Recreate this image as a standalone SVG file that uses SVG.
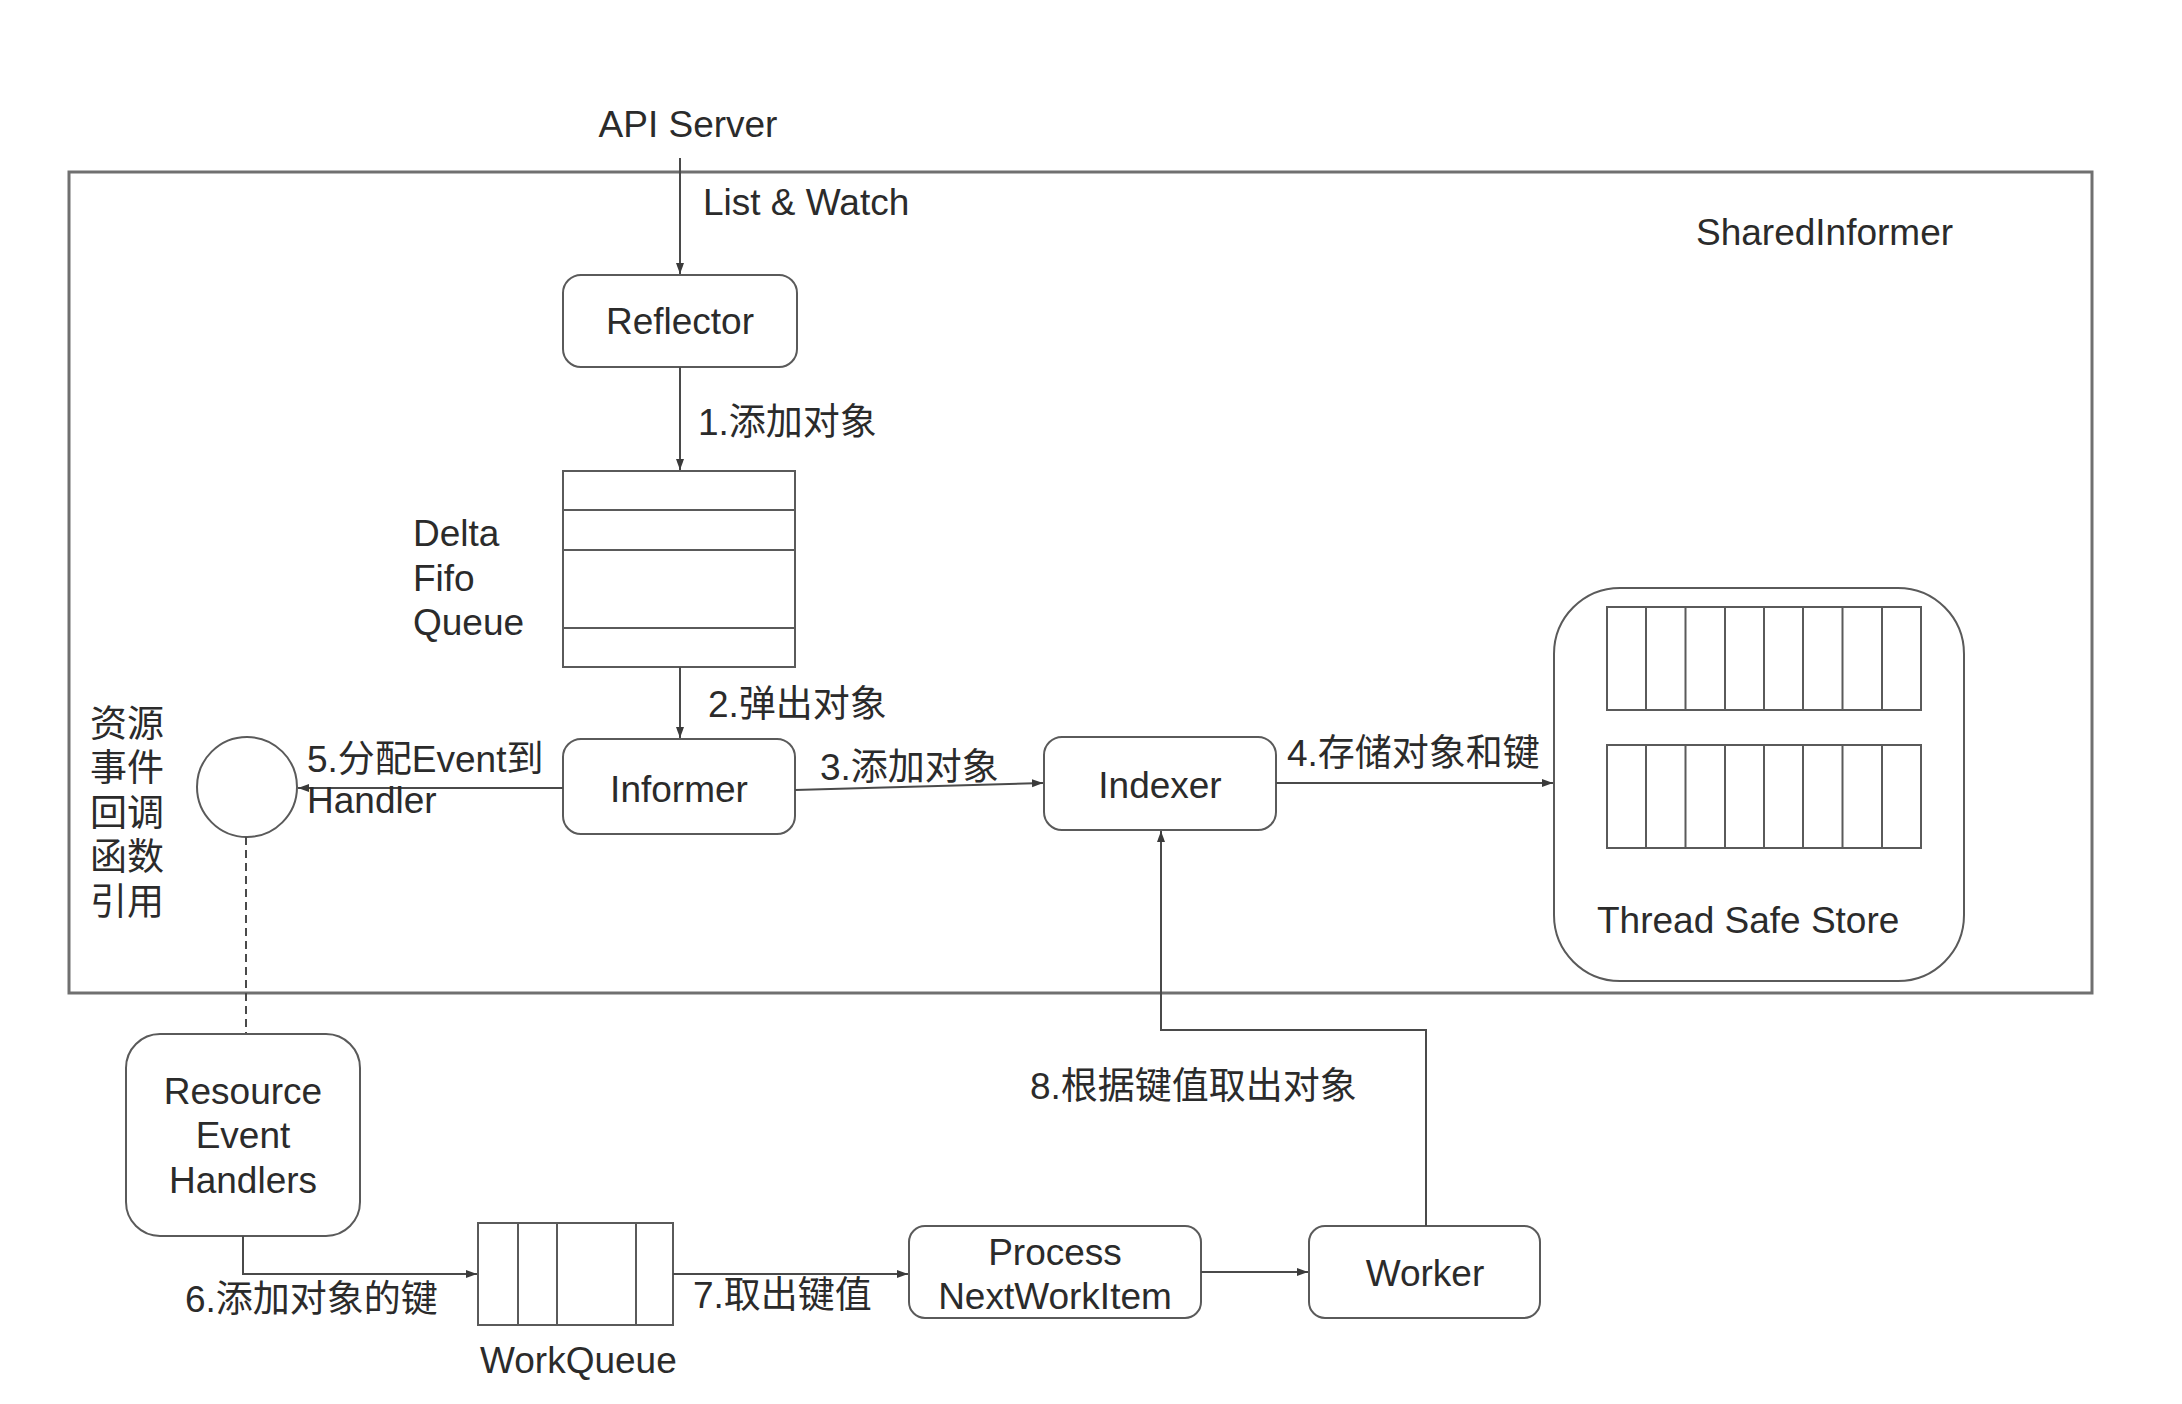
<svg xmlns="http://www.w3.org/2000/svg" width="2182" height="1404" viewBox="0 0 2182 1404">
<style>
text{font-family:"Liberation Sans","Noto Sans CJK SC",sans-serif;font-size:37px;fill:#2b2b2b}
.c{text-anchor:middle}
.node{fill:#fff;stroke:#5a5a5a;stroke-width:2}
.grid{fill:none;stroke:#5a5a5a;stroke-width:2}
.conn{fill:none;stroke:#4a4a4a;stroke-width:2}
</style>
<defs>
<marker id="ah" markerUnits="userSpaceOnUse" markerWidth="12" markerHeight="10" refX="11" refY="5" orient="auto">
<path d="M0,1 L11,5 L0,9 Z" fill="#3a3a3a"/>
</marker>
</defs>
<rect width="2182" height="1404" fill="#fff"/>
<g id="sharedinformer">
<rect x="69" y="172" width="2023" height="821" fill="none" stroke="#707070" stroke-width="3"/>
<text x="1696" y="245">SharedInformer</text>
</g>
<g id="apiserver"><text x="688" y="137" class="c">API Server</text></g>
<g id="reflector">
<rect class="node" x="563" y="275" width="234" height="92" rx="18"/>
<text x="680" y="334" class="c">Reflector</text>
</g>
<g id="deltafifo">
<rect class="grid" x="563" y="471" width="232" height="196"/>
<line class="grid" x1="563" y1="510" x2="795" y2="510"/>
<line class="grid" x1="563" y1="550" x2="795" y2="550"/>
<line class="grid" x1="563" y1="628" x2="795" y2="628"/>
<text x="413" y="546">Delta</text>
<text x="413" y="591">Fifo</text>
<text x="413" y="635">Queue</text>
</g>
<g id="informer">
<rect class="node" x="563" y="739" width="232" height="95" rx="18"/>
<text x="679" y="802" class="c">Informer</text>
</g>
<g id="indexer">
<rect class="node" x="1044" y="737" width="232" height="93" rx="18"/>
<text x="1160" y="798" class="c">Indexer</text>
</g>
<g id="threadsafestore">
<rect class="node" x="1554" y="588" width="410" height="393" rx="66"/>
<rect class="grid" x="1607" y="607" width="314" height="103"/>
<path class="grid" d="M1646,607V710M1685.5,607V710M1725,607V710M1764,607V710M1803,607V710M1842.5,607V710M1882,607V710"/>
<rect class="grid" x="1607" y="745" width="314" height="103"/>
<path class="grid" d="M1646,745V848M1685.5,745V848M1725,745V848M1764,745V848M1803,745V848M1842.5,745V848M1882,745V848"/>
<text x="1597" y="933">Thread Safe Store</text>
</g>
<g id="callback">
<circle class="node" cx="247" cy="787" r="50"/>
<text x="90" y="737">资源</text>
<text x="90" y="781">事件</text>
<text x="90" y="826">回调</text>
<text x="90" y="870">函数</text>
<text x="90" y="915">引用</text>
</g>
<g id="resourceeventhandlers">
<rect class="node" x="126" y="1034" width="234" height="202" rx="34"/>
<text x="243" y="1104" class="c">Resource</text>
<text x="243" y="1148" class="c">Event</text>
<text x="243" y="1193" class="c">Handlers</text>
</g>
<g id="workqueue">
<rect class="grid" x="478" y="1223" width="195" height="102"/>
<path class="grid" d="M518,1223V1325M557,1223V1325M636,1223V1325"/>
<text x="480" y="1373">WorkQueue</text>
</g>
<g id="processnextworkitem">
<rect class="node" x="909" y="1226" width="292" height="92" rx="16"/>
<text x="1055" y="1265" class="c">Process</text>
<text x="1055" y="1309" class="c">NextWorkItem</text>
</g>
<g id="worker">
<rect class="node" x="1309" y="1226" width="231" height="92" rx="16"/>
<text x="1425" y="1286" class="c">Worker</text>
</g>
<g id="connectors">
<line class="conn" x1="680" y1="158" x2="680" y2="274" marker-end="url(#ah)"/>
<text x="703" y="215">List &amp; Watch</text>
<line class="conn" x1="680" y1="367" x2="680" y2="470" marker-end="url(#ah)"/>
<text x="698" y="435">1.添加对象</text>
<line class="conn" x1="680" y1="667" x2="680" y2="738" marker-end="url(#ah)"/>
<text x="708" y="717">2.弹出对象</text>
<line class="conn" x1="795" y1="790" x2="1043" y2="783" marker-end="url(#ah)"/>
<text x="820" y="780">3.添加对象</text>
<line class="conn" x1="1276" y1="783" x2="1553" y2="783" marker-end="url(#ah)"/>
<text x="1287" y="766">4.存储对象和键</text>
<line class="conn" x1="563" y1="788" x2="298" y2="788" marker-end="url(#ah)"/>
<text x="307" y="772">5.分配Event到</text>
<text x="307" y="813">Handler</text>
<line class="conn" x1="246" y1="837" x2="246" y2="1033" stroke-dasharray="8 5"/>
<path class="conn" d="M243,1236V1274H477" marker-end="url(#ah)"/>
<text x="185" y="1312">6.添加对象的键</text>
<line class="conn" x1="673" y1="1274" x2="908" y2="1274" marker-end="url(#ah)"/>
<text x="693" y="1308">7.取出键值</text>
<line class="conn" x1="1201" y1="1272" x2="1308" y2="1272" marker-end="url(#ah)"/>
<path class="conn" d="M1426,1226V1030H1161V831" marker-end="url(#ah)"/>
<text x="1030" y="1099">8.根据键值取出对象</text>
</g>
</svg>
